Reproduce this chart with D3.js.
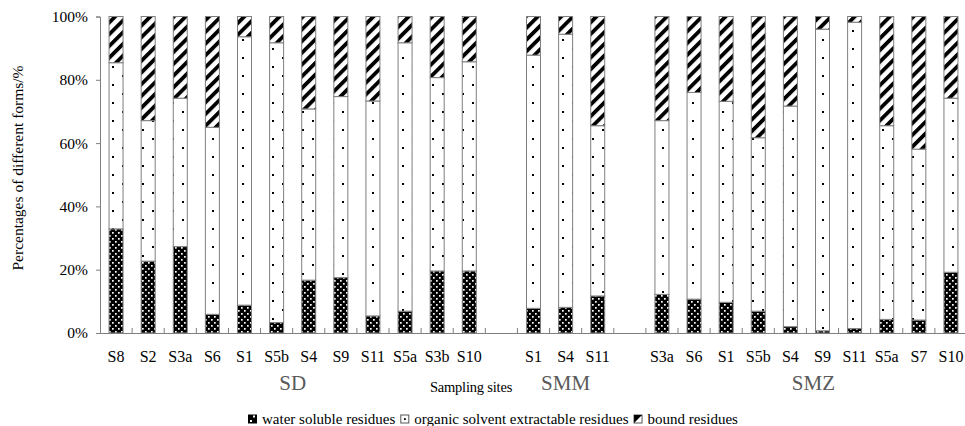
<!DOCTYPE html>
<html><head><meta charset="utf-8">
<script src="https://cdn.jsdelivr.net/npm/d3@7/dist/d3.min.js"></script>
<style>body{margin:0;background:#fff}svg{display:block}
svg text{font-family:"Liberation Serif","Times New Roman",Times,"DejaVu Serif",serif;}</style>
</head><body>
<svg id="c" width="965" height="426"></svg>
<script>
// ---- data ----
const groups = ["SD", "SMM", "SMZ"];
const sitesSD  = ["S8","S2","S3a","S6","S1","S5b","S4","S9","S11","S5a","S3b","S10"];
const sitesSMM = ["S1","S4","S11"];
const sitesSMZ = ["S3a","S6","S1","S5b","S4","S9","S11","S5a","S7","S10"];
// percentages (water soluble, organic solvent extractable, bound)
const waterSD  = [32.9,22.7,27.3,5.9,8.8,3.3,16.7,17.5,5.4,6.9,19.6,19.6];
const organicSD= [52.5,44.4,46.9,59.1,84.8,88.4,54.1,57.2,67.9,84.8,61.1,66.1];
const boundSD  = [14.6,32.9,25.8,35.0,6.4,8.3,29.2,25.3,26.7,8.3,19.3,14.3];
const waterSMM  = [7.8,8.1,11.7];
const organicSMM= [80.0,86.3,53.8];
const boundSMM  = [12.2,5.6,34.5];
const waterSMZ  = [12.2,10.7,9.7,6.9,2.0,0.7,1.4,4.3,4.1,19.2];
const organicSMZ= [54.9,65.3,63.5,54.8,69.7,95.3,96.8,61.2,54.0,55.0];
const boundSMZ  = [32.9,24.0,26.8,38.3,28.3,4.0,1.8,34.5,41.9,25.8];
const yTicks = [0,20,40,60,80,100];
const seriesNames = ["water soluble residues","organic solvent extractable residues","bound residues"];

(function(){
// ---- build rows ----
const rows = [];
const slots = [];
function addGroup(g, sites, w, o, b){
  sites.forEach((s,i)=>{ const id=g+"-"+s; slots.push(id);
    rows.push({id, site:s, group:g, vals:[w[i],o[i],b[i]]}); });
}
addGroup("SD", sitesSD, waterSD, organicSD, boundSD);
slots.push("gap1");
addGroup("SMM", sitesSMM, waterSMM, organicSMM, boundSMM);
slots.push("gap2");
addGroup("SMZ", sitesSMZ, waterSMZ, organicSMZ, boundSMZ);

const svg = d3.select("#c");
const mLeft=100, mRight=967, mTop=16.5, mBottom=333;
const x = d3.scaleBand().domain(slots).range([mLeft,mRight]).paddingInner(0.564).paddingOuter(0.282);
const y = d3.scaleLinear().domain([0,100]).range([mBottom, mTop]);
const FONT = "Liberation Serif, Times New Roman, Times, DejaVu Serif, serif";

// ---- patterns ----
const defs = svg.append("defs");
const pw = defs.append("pattern").attr("id","pWater").attr("patternUnits","userSpaceOnUse")
  .attr("width",6).attr("height",6);
pw.append("rect").attr("width",6).attr("height",6).attr("fill","#000");
pw.append("rect").attr("x",1).attr("y",1).attr("width",1.7).attr("height",1.7).attr("fill","#fff");
pw.append("rect").attr("x",4).attr("y",4).attr("width",1.7).attr("height",1.7).attr("fill","#fff");
const po = defs.append("pattern").attr("id","pOrg").attr("patternUnits","userSpaceOnUse")
  .attr("width",20).attr("height",18);
po.append("rect").attr("width",20).attr("height",18).attr("fill","#fff");
po.append("rect").attr("x",2).attr("y",3).attr("width",2).attr("height",2).attr("fill","#000");
po.append("rect").attr("x",12).attr("y",12).attr("width",2).attr("height",2).attr("fill","#000");
const pb = defs.append("pattern").attr("id","pBound").attr("patternUnits","userSpaceOnUse")
  .attr("width",8.3).attr("height",8.3).attr("patternTransform","rotate(45)");
pb.append("rect").attr("width",8.3).attr("height",8.3).attr("fill","#fff");
pb.append("rect").attr("x",0).attr("width",3.8).attr("height",8.3).attr("fill","#000");
const fills = ["url(#pWater)","url(#pOrg)","url(#pBound)"];

// ---- bars ----
const stack = rows.map(r=>{ let c=0; return r.vals.map((v,k)=>{ const s={id:r.id,k,y0:c,y1:c+v}; c+=v; return s; }); }).flat();
svg.append("g").selectAll("rect").data(stack).join("rect")
  .attr("x", d=>x(d.id)).attr("width", x.bandwidth())
  .attr("y", d=>y(d.y1)).attr("height", d=>y(d.y0)-y(d.y1))
  .attr("fill", d=>fills[d.k]).attr("stroke","#7f7f7f").attr("stroke-width",1);

// ---- y axis ----
const ya = svg.append("g").attr("transform",`translate(${mLeft},0)`)
  .call(d3.axisLeft(y).tickValues(yTicks).tickFormat(d=>d+"%").tickSize(4).tickPadding(8));
ya.attr("font-family",null);
ya.select(".domain").attr("stroke","#7f7f7f");
ya.selectAll(".tick line").attr("stroke","#7f7f7f");
ya.selectAll("text").style("font-family",FONT).attr("font-size",15.5).attr("fill","#000");

// ---- x axis ----
const xa = svg.append("g").attr("transform",`translate(0,${mBottom})`)
  .call(d3.axisBottom(x).tickSize(0).tickPadding(18)
    .tickFormat(id=>{ const r=rows.find(q=>q.id===id); return r? r.site : ""; }));
xa.attr("font-family",null);
xa.select(".domain").attr("stroke","#7f7f7f");
xa.selectAll("text").style("font-family",FONT).attr("font-size",16).attr("fill","#000");
const step = x.step();
const bounds = slots.slice(1).map(id=>x(id)+x.bandwidth()/2-step/2);
svg.append("g").selectAll("line").data(bounds).join("line")
  .attr("x1",d=>d).attr("x2",d=>d).attr("y1",mBottom).attr("y2",mBottom-5)
  .attr("stroke","#7f7f7f");

// ---- group labels ----
groups.forEach(g=>{
  const ids = rows.filter(r=>r.group===g).map(r=>r.id);
  const cx = (x(ids[0]) + x(ids[ids.length-1]) + x.bandwidth())/2 + (g==="SMZ"?7:0);
  svg.append("text").attr("x",cx).attr("y",390).attr("text-anchor","middle")
    .style("font-family",FONT).attr("font-size",21).attr("fill","#5a5a5a").text(g);
});
svg.append("text").attr("x",471).attr("y",392).attr("text-anchor","middle")
  .style("font-family",FONT).attr("font-size",14.5).attr("letter-spacing",-0.2).attr("fill","#000").text("Sampling sites");
svg.append("text").attr("transform","translate(23,168) rotate(-90)").attr("text-anchor","middle")
  .style("font-family",FONT).attr("font-size",15.5).attr("fill","#000").text("Percentages of different forms/%");

// ---- legend ----
const lg = svg.append("g");
let lx = 248; const ly = 419;
seriesNames.forEach((n,k)=>{
  const ic = lg.append("g");
  if(k===0){
    ic.append("rect").attr("x",lx).attr("y",ly-4.5).attr("width",9).attr("height",9).attr("fill","#000");
    ic.append("rect").attr("x",lx+5).attr("y",ly-3.5).attr("width",2).attr("height",2).attr("fill","#fff");
    ic.append("rect").attr("x",lx+2).attr("y",ly+1).attr("width",2).attr("height",2).attr("fill","#fff");
  } else if(k===1){
    ic.append("rect").attr("x",lx+0.5).attr("y",ly-4).attr("width",8).attr("height",8).attr("fill","#fff").attr("stroke","#555");
    ic.append("rect").attr("x",lx+3.7).attr("y",ly-0.8).attr("width",1.8).attr("height",1.8).attr("fill","#000");
  } else {
    ic.append("rect").attr("x",lx+0.5).attr("y",ly-4).attr("width",8).attr("height",8).attr("fill","#fff").attr("stroke","#555");
    ic.append("path").attr("d",`M${lx+0.5},${ly-4}h8l-8,8z`).attr("fill","#000");
  }
  const t = lg.append("text").attr("x",lx+14).attr("y",ly+4.5)
    .style("font-family",FONT).attr("font-size",15).attr("fill","#000").text(n);
  lx = lx + 14 + t.node().getComputedTextLength() + 5;
});
})();
</script>
</body></html>
